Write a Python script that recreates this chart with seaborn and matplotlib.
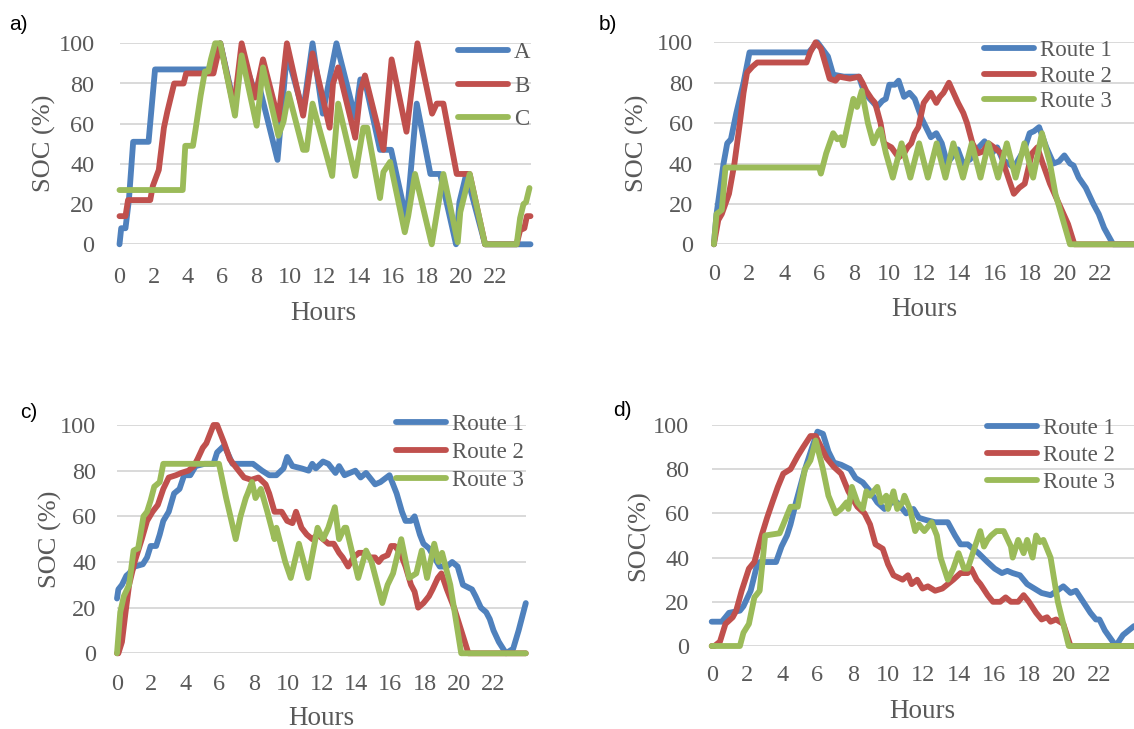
import matplotlib
matplotlib.use("Agg")
import matplotlib.pyplot as plt
import seaborn as sns

# ---------------- data (hours, SOC %) ----------------
# Panel a
a_A_h = [0, 0.1, 0.35, 0.55, 0.8, 1.7, 2.08, 5.2, 5.5, 5.9, 6.75, 7.15, 7.95, 8.2, 9.25, 9.8, 10.75, 11.3, 11.9, 12.7,
         13.8, 14.1, 14.35, 15.25, 15.9, 16.8, 17.4, 18.2, 18.77, 19.7, 19.9, 20.3, 21.4, 24.06]
a_A_v = [0, 8, 8, 22, 51, 51, 87, 87, 90, 100, 68, 95, 75, 78, 42, 95, 66, 100, 65, 100,
         63, 82, 82, 47, 47, 12, 70, 35, 35, 0, 21, 35, 0, 0]
a_B_h = [0, 0.35, 0.5, 1.8, 1.95, 2.3, 2.6, 2.8, 3.2, 3.75, 3.9, 5.5, 5.9, 6.7, 7.15, 7.93, 8.4, 9.3, 9.8, 10.75,
         11.3, 12.3, 12.5, 12.8, 13.8, 14.1, 14.37, 15.45, 15.93, 16.8, 17.44, 18.3, 18.57, 18.96, 19.74, 20.5,
         21.4, 23.25, 23.45, 23.7, 23.85, 24.06]
a_B_v = [14, 14, 22, 22, 29, 37, 58, 66, 80, 80, 85, 85, 100, 68, 100, 73, 92, 62, 100, 64,
         95, 58, 80, 88, 53, 76, 84, 47, 92, 56, 100, 65, 70, 70, 35, 35,
         0, 0, 7, 8, 14, 14]
a_C_h = [0, 3.7, 3.85, 4.3, 4.45, 4.75, 5.0, 5.2, 5.35, 5.6, 5.9, 6.76, 7.15, 8.03, 8.4, 9.3, 9.6, 9.9, 10.75, 10.95,
         11.3, 12.45, 12.8, 13.8, 14.27, 14.5, 15.25, 15.45, 15.84, 16.7, 16.9, 17.3, 18.28, 18.57, 18.96, 19.8,
         19.95, 20.5, 21.4, 23.25, 23.45, 23.65, 23.8, 24.0]
a_C_v = [27, 27, 49, 49, 57, 74, 86, 86, 92, 100, 100, 64, 94, 59, 88, 54, 61, 75, 47, 47,
         70, 34, 70, 34, 58, 58, 23, 36, 41, 6, 14, 35, 0, 15, 35, 1,
         16, 35, 0, 0, 13, 20, 21, 28]

# Panel b
b_1_h = [0, 0.15, 0.55, 0.76, 0.97, 1.28, 1.69, 2.03, 5.4, 5.9, 6.5, 6.8, 7.4, 8.27, 8.58, 9.1, 9.3, 9.6, 9.8, 10.0,
         10.32, 10.53, 10.84, 11.15, 11.45, 11.86, 12.37, 12.68, 12.99, 13.3, 13.9, 14.2, 14.6, 15.1, 15.43, 15.84,
         16.15, 16.45, 17.1, 17.7, 18.0, 18.25, 18.54, 18.95, 19.36, 19.67, 19.98, 20.3, 20.5, 20.8, 21.2, 21.63,
         21.94, 22.25, 22.76, 23.95]
b_1_v = [0, 15, 40, 50, 52, 65, 80, 95, 95, 100, 93, 84, 83, 83, 75, 70, 68, 71, 72, 79,
         79, 81, 73, 75, 72, 62, 53, 55, 50, 40, 47, 40, 42, 48, 51, 45,
         48, 42, 38, 47, 55, 56, 58, 48, 40, 41, 44, 40, 39, 33, 28, 20,
         15, 8, 0, 0]
b_2_h = [0, 0.25, 0.45, 0.86, 1.17, 1.48, 1.69, 1.89, 2.2, 2.47, 5.28, 5.49, 5.8, 6.1, 6.4, 6.6, 6.93, 7.13, 7.75, 8.27,
         8.47, 8.68, 8.99, 9.19, 9.5, 9.7, 10.12, 10.53, 10.84, 11.04, 11.25, 11.45, 11.66, 11.96, 12.37, 12.68,
         12.88, 13.09, 13.4, 13.92, 14.22, 14.43, 14.74, 15.05, 15.35, 15.66, 15.97, 16.38, 16.59, 16.9, 17.1,
         17.41, 17.72, 18.13, 18.44, 18.75, 19.16, 19.57, 20.19, 20.55, 23.95]
b_2_v = [0, 12, 15, 25, 40, 60, 75, 85, 88, 90, 90, 95, 100, 97, 88, 82, 81, 83, 82, 83,
         80, 76, 72, 70, 60, 50, 48, 43, 45, 48, 50, 55, 58, 70, 75, 70,
         73, 75, 80, 70, 65, 60, 50, 45, 46, 50, 48, 45, 38, 30, 25,
         28, 30, 45, 48, 40, 30, 22, 10, 0, 0]
b_3_h = [0, 0.15, 0.45, 0.66, 6.0, 6.1, 6.4, 6.8, 7.03, 7.24, 7.38, 7.65, 7.95, 8.16, 8.43, 8.78, 9.09, 9.4, 9.5, 9.81,
         10.2, 10.7, 11.2, 11.7, 12.2, 12.7, 13.2, 13.65, 14.2, 14.7, 15.2, 15.65, 16.2, 16.7, 17.2, 17.7, 18.2,
         18.7, 19.16, 19.47, 20.3, 23.95]
b_3_v = [0, 15, 17, 38, 38, 35, 45, 55, 52, 53, 49, 60, 72, 68, 76, 60, 50, 56, 57, 45,
         33, 50, 33, 50, 33, 50, 33, 50, 33, 50, 33, 50, 33, 50, 33, 50, 33,
         55, 40, 25, 0, 0]

# Panel c
c_1_h = [0, 0.08, 0.29, 0.55, 0.71, 1.03, 1.51, 1.76, 1.97, 2.29, 2.5, 2.71, 3.03, 3.34, 3.66, 3.93, 4.29, 4.6, 5.13,
         5.65, 5.86, 6.28, 6.76, 7.65, 7.96, 8.49, 8.91, 9.33, 9.75, 9.96, 10.27, 10.8, 11.22, 11.43, 11.64, 12.06,
         12.37, 12.79, 13.0, 13.32, 13.63, 13.95, 14.26, 14.58, 14.9, 15.11, 15.42, 15.95, 16.37, 16.68, 16.89,
         17.21, 17.42, 17.73, 17.94, 18.26, 18.57, 18.89, 19.31, 19.62, 19.94, 20.25, 20.78, 20.99, 21.3, 21.61,
         21.82, 22.04, 22.35, 22.77, 23.19, 23.51, 23.93]
c_1_v = [24, 28, 30, 34, 35, 38, 39, 42, 47, 47, 52, 58, 62, 70, 72, 78, 78, 82, 83,
         83, 88, 91, 83, 83, 83, 80, 78, 78, 81, 86, 82, 81, 80, 83, 81, 84,
         83, 79, 82, 78, 79, 80, 77, 79, 76, 74, 75, 78, 70, 62, 58,
         58, 60, 52, 48, 46, 42, 38, 38, 40, 38, 30, 28, 25, 20, 18,
         15, 10, 5, 0, 2, 10, 22]
c_2_h = [0, 0.08, 0.29, 0.5, 0.71, 1.03, 1.45, 1.76, 2.08, 2.39, 2.71, 3.03, 3.45, 3.76, 4.18, 4.5, 4.71, 5.02, 5.23,
         5.65, 5.86, 6.28, 6.6, 6.91, 7.12, 7.44, 7.86, 8.28, 8.7, 8.91, 9.22, 9.64, 9.96, 10.27, 10.48, 10.8,
         11.11, 11.43, 11.74, 12.06, 12.37, 12.69, 13.0, 13.21, 13.53, 13.84, 14.16, 14.58, 14.79, 15.1, 15.32,
         15.53, 15.84, 16.05, 16.26, 16.58, 16.89, 17.21, 17.42, 17.63, 17.94, 18.26, 18.47, 18.78, 18.99, 19.31,
         19.73, 20.15, 20.57, 23.93]
c_2_v = [0, 0, 5, 18, 30, 40, 50, 58, 62, 65, 72, 77, 78, 79, 80, 82, 85, 90, 92,
         100, 100, 92, 85, 82, 80, 77, 76, 77, 74, 70, 62, 62, 58, 57, 62, 55,
         52, 50, 52, 50, 48, 48, 44, 42, 38, 42, 44, 44, 42, 42, 40,
         42, 43, 47, 47, 44, 38, 30, 27, 20, 22, 25, 28, 33, 35, 28,
         20, 10, 0, 0]
c_3_h = [0, 0.19, 0.4, 0.71, 0.97, 1.24, 1.55, 1.76, 1.97, 2.18, 2.5, 2.71, 5.97, 6.39, 6.95, 7.23, 7.54, 7.65, 7.9,
         8.11, 8.42, 8.8, 9.22, 9.33, 9.85, 10.17, 10.65, 11.18, 11.74, 12.06, 12.37, 12.75, 13.0, 13.32, 13.42,
         14.12, 14.58, 14.9, 15.53, 15.84, 16.16, 16.64, 17.1, 17.52, 17.84, 18.15, 18.57, 18.82, 19.03, 19.51,
         20.15, 23.93]
c_3_v = [0, 18, 25, 30, 45, 46, 60, 62, 67, 73, 75, 83, 83, 68, 50, 60, 68, 70, 75,
         68, 72, 62, 50, 55, 40, 33, 48, 33, 55, 50, 55, 64, 50, 55, 55,
         33, 45, 40, 22, 30, 35, 50, 33, 35, 45, 33, 48, 40, 44, 30,
         0, 0]

# Panel d
d_1_h = [0, 0.57, 0.78, 0.98, 1.6, 1.8, 2.21, 2.52, 2.72, 3.65, 3.96, 4.27, 4.47, 4.78, 5.29, 5.7, 6.0, 6.31, 6.62,
         6.93, 7.34, 7.85, 8.16, 8.57, 8.98, 9.39, 9.8, 10.21, 10.52, 11.03, 11.44, 11.75, 12.16, 12.67, 13.39,
         13.8, 14.11, 14.52, 15.13, 15.64, 16.05, 16.46, 16.77, 17.07, 17.48, 17.89, 18.3, 18.71, 19.22, 19.94,
         20.35, 20.66, 21.07, 21.48, 21.79, 21.99, 22.3, 22.92, 23.33, 23.95]
d_1_v = [11, 11, 13, 15, 16, 18, 25, 35, 38, 38, 45, 50, 55, 65, 80, 90, 97, 96, 88,
         83, 82, 80, 76, 74, 70, 65, 62, 65, 65, 60, 62, 58, 57, 56, 56,
         50, 46, 46, 42, 38, 35, 33, 34, 33, 32, 28, 26, 24, 23, 27,
         24, 25, 20, 15, 12, 12, 7, 0, 5, 9]
d_2_h = [0, 0.16, 0.47, 0.78, 1.19, 1.39, 1.7, 2.11, 2.42, 2.83, 3.14, 3.44, 3.75, 4.06, 4.47, 4.88, 5.19, 5.6, 5.9,
         6.21, 6.52, 6.93, 7.34, 7.75, 8.26, 8.67, 8.98, 9.29, 9.7, 10.0, 10.31, 10.83, 11.13, 11.34, 11.65, 11.96,
         12.26, 12.67, 13.08, 13.39, 13.7, 14.11, 14.52, 14.72, 15.03, 15.24, 15.65, 15.95, 16.36, 16.67, 16.97,
         17.38, 17.69, 17.99, 18.4, 18.71, 19.02, 19.22, 19.53, 19.94, 20.35, 23.95]
d_2_v = [0, 0, 2, 10, 13, 16, 25, 35, 38, 50, 58, 65, 72, 78, 80, 86, 90, 95, 95,
         90, 85, 81, 78, 70, 63, 60, 55, 46, 44, 37, 32, 30, 32, 28, 30, 26,
         27, 25, 26, 28, 30, 33, 33, 35, 30, 28, 23, 20, 20, 22, 20,
         20, 23, 20, 15, 12, 13, 11, 12, 10, 0, 0]
d_3_h = [0, 1.6, 1.8, 2.11, 2.42, 2.72, 3.03, 3.85, 4.06, 4.47, 4.88, 5.09, 5.29, 5.6, 5.9, 6.31, 6.62, 7.03, 7.34,
         7.65, 7.75, 7.95, 8.26, 8.57, 8.77, 8.98, 9.39, 9.6, 9.9, 10.0, 10.31, 10.52, 10.83, 10.93, 11.24, 11.54,
         11.75, 12.06, 12.47, 12.77, 12.98, 13.39, 13.7, 14.0, 14.31, 14.52, 14.93, 15.23, 15.44, 15.64, 15.85,
         16.15, 16.56, 16.97, 17.07, 17.38, 17.69, 17.89, 18.2, 18.4, 18.61, 18.81, 19.22, 19.63, 20.25, 23.95]
d_3_v = [0, 0, 6, 10, 22, 25, 50, 51, 55, 63, 63, 72, 80, 84, 93, 80, 68, 60, 62,
         65, 62, 72, 65, 62, 70, 68, 72, 65, 68, 62, 70, 62, 65, 68, 62, 52,
         55, 52, 56, 50, 40, 30, 35, 42, 35, 35, 45, 52, 45, 48, 50,
         52, 52, 45, 40, 48, 42, 48, 40, 50, 47, 48, 40, 20, 0, 0]

labels_a = ["A", "B", "C"]
labels_r = ["Route 1", "Route 2", "Route 3"]
x_ticks = [0, 2, 4, 6, 8, 10, 12, 14, 16, 18, 20, 22]
y_ticks = [0, 20, 40, 60, 80, 100]

# ---------------- style ----------------
W, H = 1134, 729
sns.set_style("white")
plt.rcParams["font.family"] = ["Liberation Serif", "DejaVu Serif"]
GRAY = "#595959"
COLORS = ["#4F81BD", "#C0504D", "#9BBB59"]
SERIF = "Liberation Serif"

fig = plt.figure(figsize=(W / 100, H / 100), dpi=100)


def px_axes(left, right, top, bottom):
    return fig.add_axes([left / W, 1 - bottom / H, (right - left) / W, (bottom - top) / H])


panels = [
    dict(tag="a)", tagpos=(9, 24), box=(119.5, 530.5, 43.3, 244.3),
         series=[(a_A_h, a_A_v), (a_B_h, a_B_v), (a_C_h, a_C_v)], labels=labels_a,
         ylabel="SOC (%)", xl=(323, 314), yl=(44, 143.8), xpad=16.5, ypad=18,
         leg=(458, 86), lsp=0.55),
    dict(tag="b)", tagpos=(599, 24), box=(713.9, 1134, 42.3, 244.3),
         series=[(b_1_h, b_1_v), (b_2_h, b_2_v), (b_3_h, b_3_v)], labels=labels_r,
         ylabel="SOC (%)", xl=(924.5, 309.3), yl=(637, 143.3), xpad=14.5, ypad=15,
         leg=(984, 76), lsp=0.2),
    dict(tag="c)", tagpos=(20, 412.5), box=(117, 525.8, 425, 653.3),
         series=[(c_1_h, c_1_v), (c_2_h, c_2_v), (c_3_h, c_3_v)], labels=labels_r,
         ylabel="SOC (%)", xl=(321.3, 718.3), yl=(50.3, 539), xpad=15, ypad=15,
         leg=(396, 452.3), lsp=0.3),
    dict(tag="d)", tagpos=(613, 411), box=(711.7, 1134, 425, 646),
         series=[(d_1_h, d_1_v), (d_2_h, d_2_v), (d_3_h, d_3_v)], labels=labels_r,
         ylabel="SOC(%)", xl=(922.5, 711.7), yl=(638.7, 535.5), xpad=14, ypad=16,
         leg=(986.5, 455.7), lsp=0.26),
]

for p in panels:
    left, right, top, bottom = p["box"]
    ax = px_axes(left, right, top, bottom)
    for (hx, hv), lab, col in zip(p["series"], p["labels"], COLORS):
        sns.lineplot(x=hx, y=hv, ax=ax, color=col, linewidth=4.2, label=lab, sort=False,
                     estimator=None, clip_on=False, solid_joinstyle="round",
                     solid_capstyle="round")
    xmax = max(max(h) for h, _ in p["series"])
    ax.set_xlim(0, xmax)
    ax.set_ylim(0, 100)
    ax.set_xticks(x_ticks)
    ax.set_yticks(y_ticks)
    for s in ax.spines.values():
        s.set_visible(False)
    ax.grid(axis="y", color="#D9D9D9", linewidth=1.4)
    ax.grid(axis="x", visible=False)
    ax.set_axisbelow(True)
    ax.tick_params(axis="x", length=0, pad=p["xpad"], labelsize=17.5, labelcolor=GRAY)
    ax.tick_params(axis="y", length=0, pad=p["ypad"], labelsize=17.5, labelcolor=GRAY)
    for t in ax.get_xticklabels() + ax.get_yticklabels():
        t.set_fontfamily(SERIF)
    ax.set_xlabel("Hours", fontsize=19.5, color=GRAY, fontfamily=SERIF, va="center")
    ax.set_ylabel(p["ylabel"], fontsize=19, color=GRAY, fontfamily=SERIF, va="center", ha="center")
    xlx, xly = p["xl"]
    ax.xaxis.set_label_coords((xlx - left) / (right - left), (bottom - xly) / (bottom - top))
    ylx, yly = p["yl"]
    ax.yaxis.set_label_coords((ylx - left) / (right - left), (bottom - yly) / (bottom - top))
    lx, ly = p["leg"]
    ax.legend(loc="center left", bbox_to_anchor=(lx / W, 1 - ly / H), bbox_transform=fig.transFigure,
              frameon=False, borderpad=0, borderaxespad=0, handlelength=2.2, handletextpad=0.25,
              labelspacing=p["lsp"], prop=dict(family=SERIF, size=16.5), labelcolor=GRAY)
    tx, ty = p["tagpos"]
    fig.text(tx / W, 1 - ty / H, p["tag"], fontsize=15, color="black",
             fontfamily=["Liberation Sans", "DejaVu Sans"], ha="left", va="center")

fig.savefig("out.png", dpi=100)
